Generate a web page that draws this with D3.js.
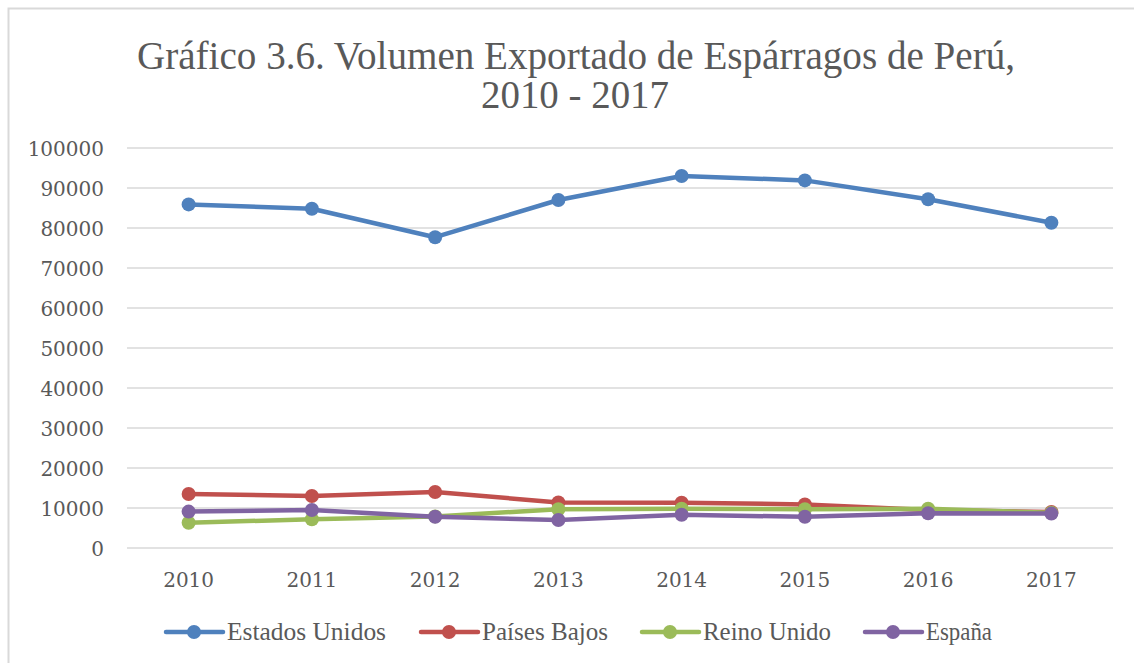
<!DOCTYPE html>
<html><head><meta charset="utf-8">
<script src="https://cdn.jsdelivr.net/npm/d3@7"></script>
<style>body{margin:0;background:#fff;}svg{display:block;font-family:"Liberation Serif","DejaVu Serif",serif;}</style>
</head><body>
<svg id="c" width="1134" height="663"></svg>
<script>
const years = ["2010","2011","2012","2013","2014","2015","2016","2017"];
const estadosUnidos = [85900, 84800, 77700, 87000, 93000, 91900, 87200, 81300];
const paisesBajos   = [13500, 13000, 14000, 11400, 11300, 10900, 9500, 9000];
const reinoUnido    = [6300, 7200, 7900, 9700, 9800, 9700, 9800, 8800];
const espana        = [9100, 9500, 7800, 7000, 8300, 7800, 8700, 8600];
const seriesNames = ["Estados Unidos","Países Bajos","Reino Unido","España"];
const yTicks = [0,10000,20000,30000,40000,50000,60000,70000,80000,90000,100000];
const titleLines = ["Gráfico 3.6. Volumen Exportado de Espárragos de Perú,", "2010 - 2017"];

const colors = ["#4f81bd","#c0504d","#9bbb59","#8064a2"];
const allSeries = [estadosUnidos, paisesBajos, reinoUnido, espana];
const svg = d3.select("#c");
const textColor = "#595959";

svg.append("path").attr("d","M8.5,663 V8.5 H1134").attr("fill","none").attr("stroke","#d9d9d9").attr("stroke-width",2);

const title = svg.append("text").attr("text-anchor","middle").attr("font-size",40).attr("fill",textColor);
title.append("tspan").attr("x",576).attr("y",69).text(titleLines[0])
  .attr("textLength",878).attr("lengthAdjust","spacingAndGlyphs");
title.append("tspan").attr("x",575).attr("y",108).text(titleLines[1])
  .attr("textLength",188).attr("lengthAdjust","spacingAndGlyphs");

const x = d3.scaleBand().domain(years).range([127,1113]);
const y = d3.scaleLinear().domain([0,100000]).range([548,148]);

svg.append("g").selectAll("line").data(yTicks).join("line")
  .attr("x1",127).attr("x2",1113).attr("y1",d=>y(d)).attr("y2",d=>y(d))
  .attr("stroke","#d9d9d9").attr("stroke-width",1.5);

const yAxis = d3.axisLeft(y).tickValues(yTicks).tickSize(0).tickPadding(0).tickFormat(d=>String(d));
const gy = svg.append("g").attr("transform","translate(104,0)").call(yAxis);
gy.select(".domain").remove();
gy.selectAll("text").attr("font-size",20).attr("fill",textColor).attr("font-family","'DejaVu Serif',serif").attr("dy","0.36em");

const xAxis = d3.axisBottom(x).tickSize(0).tickPadding(0);
const gx = svg.append("g").attr("transform","translate(0,580)").call(xAxis);
gx.select(".domain").remove();
gx.selectAll("text").attr("font-size",20).attr("fill",textColor).attr("font-family","'DejaVu Serif',serif").attr("dy","0.36em");

const line = d3.line().x((d,i)=>x(years[i])+x.bandwidth()/2).y(d=>y(d));
allSeries.forEach((s,k)=>{
  const g = svg.append("g");
  g.append("path").datum(s).attr("d",line).attr("fill","none").attr("stroke",colors[k])
    .attr("stroke-width",4.5).attr("stroke-linejoin","round");
  g.selectAll("circle").data(s).join("circle")
    .attr("cx",(d,i)=>x(years[i])+x.bandwidth()/2).attr("cy",d=>y(d)).attr("r",7).attr("fill",colors[k]);
});

const legX = [166,421,642,865];
const legW = [159,126,128,66];
seriesNames.forEach((n,k)=>{
  const g = svg.append("g");
  const x0 = legX[k];
  g.append("line").attr("x1",x0).attr("x2",x0+57).attr("y1",632).attr("y2",632)
    .attr("stroke",colors[k]).attr("stroke-width",4.5).attr("stroke-linecap","round");
  g.append("circle").attr("cx",x0+28).attr("cy",632).attr("r",7).attr("fill",colors[k]);
  g.append("text").attr("x",x0+61).attr("y",640).attr("font-size",25).attr("fill",textColor)
    .text(n).attr("textLength",legW[k]).attr("lengthAdjust","spacingAndGlyphs");
});
</script>
</body></html>
